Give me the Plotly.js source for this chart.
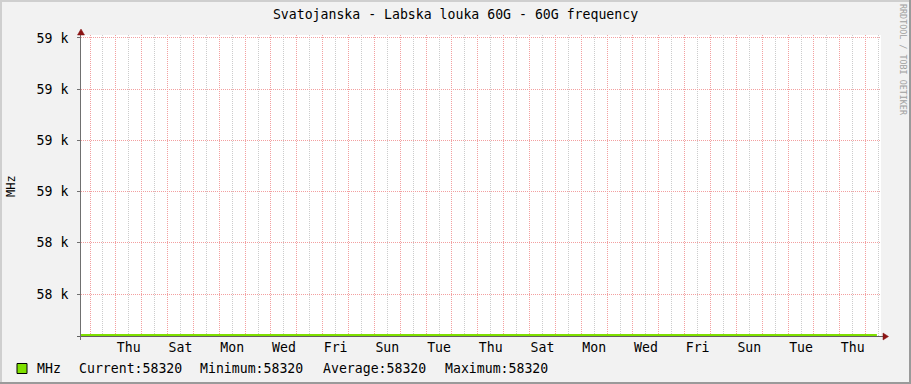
<!DOCTYPE html>
<html><head><meta charset="utf-8">
<script src="https://cdn.plot.ly/plotly-3.0.1.min.js"></script>
<style>html,body{margin:0;padding:0;background:#F2F2F2;overflow:hidden}#chart{width:911px;height:384px}</style>
</head><body><div id="chart"></div>
<script>
// ---- data ----
const sampleTimes = ['2024-01-02 15:40','2024-01-05 00:00','2024-01-09 00:00','2024-01-13 00:00','2024-01-17 00:00','2024-01-21 00:00','2024-01-25 00:00','2024-01-29 00:00','2024-02-02 10:25'];
const mhzValues = [58320,58320,58320,58320,58320,58320,58320,58320,58320];
const dayLabelDates = ['2024-01-04 12:00','2024-01-06 12:00','2024-01-08 12:00','2024-01-10 12:00','2024-01-12 12:00','2024-01-14 12:00','2024-01-16 12:00','2024-01-18 12:00','2024-01-20 12:00','2024-01-22 12:00','2024-01-24 12:00','2024-01-26 12:00','2024-01-28 12:00','2024-01-30 12:00','2024-02-01 12:00'];
const dayLabels = ['Thu','Sat','Mon','Wed','Fri','Sun','Tue','Thu','Sat','Mon','Wed','Fri','Sun','Tue','Thu'];
const yTickValues = [58400,58500,58600,58700,58800,58900];
const yTickLabels = ['58 k','58 k','59 k','59 k','59 k','59 k'];
const statNames = ['Current','Minimum','Average','Maximum'];
const statValues = [58320,58320,58320,58320];
const seriesName = 'MHz';
const titleText = 'Svatojanska - Labska louka 60G - 60G frequency';
const watermark = 'RRDTOOL / TOBI OETIKER';

// ---- layout helpers (pixel -> paper) ----
const L = 81, R = 30, T = 35, B = 48, W = 911, H = 384;
const PW = W - L - R, PH = H - T - B;
const px = p => (p - L) / PW;
const py = p => (H - B - p) / PH;
const MONO = 'DejaVu Sans Mono';
const xRange = ['2024-01-02 15:39', '2024-02-02 14:13'];
const yRange = [58318, 58320 + (H - B - T) / 0.5138];

const redGrid = 'rgb(243,160,160)';
const grayGrid = 'rgb(204,204,204)';

const trace = {
  x: sampleTimes, y: mhzValues, type: 'scatter', mode: 'lines',
  line: {color: '#7FE000', width: 2}, name: seriesName, hoverinfo: 'skip', showlegend: false
};

const shapes = [];
// frame
shapes.push({type:'line',xref:'paper',yref:'paper',x0:px(0),x1:px(W),y0:py(1),y1:py(1),line:{color:'#CFCFCF',width:2}});
shapes.push({type:'line',xref:'paper',yref:'paper',x0:px(1),x1:px(1),y0:py(0),y1:py(H),line:{color:'#CFCFCF',width:2}});
shapes.push({type:'line',xref:'paper',yref:'paper',x0:px(0),x1:px(W),y0:py(H-1),y1:py(H-1),line:{color:'#9A9A9A',width:2}});
shapes.push({type:'line',xref:'paper',yref:'paper',x0:px(W-1),x1:px(W-1),y0:py(0),y1:py(H),line:{color:'#9A9A9A',width:2}});
// axes
shapes.push({type:'line',xref:'paper',yref:'paper',x0:px(77),x1:px(884),y0:py(336.5),y1:py(336.5),line:{color:'#606060',width:1}});
shapes.push({type:'line',xref:'paper',yref:'paper',x0:px(80.5),x1:px(80.5),y0:py(340),y1:py(34),line:{color:'#707070',width:1}});
// arrowheads
shapes.push({type:'path',xref:'paper',yref:'paper',
  path:`M ${px(81)},${py(29)} L ${px(77.5)},${py(35)} L ${px(84.5)},${py(35)} Z`,
  fillcolor:'#8B1414',line:{color:'#8B1414',width:0.5}});
shapes.push({type:'path',xref:'paper',yref:'paper',
  path:`M ${px(888.5)},${py(336.5)} L ${px(883)},${py(333)} L ${px(883)},${py(340)} Z`,
  fillcolor:'#8B1414',line:{color:'#8B1414',width:0.5}});
// legend swatch
shapes.push({type:'rect',xref:'paper',yref:'paper',x0:px(17),x1:px(27),y0:py(373.5),y1:py(363.5),
  fillcolor:'#7FE000',line:{color:'#000',width:1}});

const font13 = {family: MONO, size: 13.2, color: '#000'};
const annotations = [];
annotations.push({xref:'paper',yref:'paper',x:px(34.5),y:py(368.5),xanchor:'left',yanchor:'middle',text:seriesName,showarrow:false,font:font13});
const statX = [76.8, 198, 320.7, 443];
statNames.forEach((n,i)=>{
  annotations.push({xref:'paper',yref:'paper',x:px(statX[i]),y:py(368.5),xanchor:'left',yanchor:'middle',
    text:n+':'+statValues[i],showarrow:false,font:font13});
});
annotations.push({xref:'paper',yref:'paper',x:px(11),y:py(186),xanchor:'center',yanchor:'middle',text:seriesName,
  textangle:-90,showarrow:false,font:{family:MONO,size:12,color:'#000'}});
annotations.push({xref:'paper',yref:'paper',x:px(903),y:py(60),xanchor:'center',yanchor:'middle',text:watermark,
  textangle:90,showarrow:false,font:{family:MONO,size:8.4,color:'#A0A0A0'}});

const layout = {
  width: W, height: H,
  margin: {l: L, r: R, t: T, b: B, pad: 0},
  paper_bgcolor: '#F2F2F2', plot_bgcolor: '#FFFFFF',
  showlegend: false,
  title: {text: titleText, font: font13, x: 0.5, xref: 'container', xanchor: 'center',
          y: 1 - 14/H, yref: 'container', yanchor: 'middle'},
  xaxis: {type:'date', range: xRange, tickmode:'linear', tick0:'2024-01-03 00:00', dtick: 86400000,
    showticklabels:false, ticks:'', showgrid:true, gridcolor: redGrid, griddash:'1px,1px', gridwidth:1,
    minor:{tick0:'2024-01-02 12:00', dtick:86400000, showgrid:true, gridcolor: grayGrid, griddash:'1px,1px', gridwidth:1},
    zeroline:false, showline:false, fixedrange:true},
  xaxis2: {type:'date', overlaying:'x', anchor:'y', side:'bottom', range: xRange, tickmode:'array',
    tickvals: dayLabelDates, ticktext: dayLabels, showgrid:false, ticks:'', showline:false, zeroline:false,
    tickfont: font13, ticklabelstandoff: 2, fixedrange:true},
  yaxis: {range: yRange, tickmode:'array', tickvals: yTickValues, ticktext: yTickLabels,
    showgrid:true, gridcolor: redGrid, griddash:'1px,1px', gridwidth:1, zeroline:false, showline:false,
    ticks:'outside', ticklen:3, tickcolor:'#707070', tickfont: font13, ticklabelstandoff: 6, fixedrange:true},
  shapes: shapes, annotations: annotations
};
const trace2 = {x:[xRange[0]], y:[yRange[0]-100], xaxis:'x2', type:'scatter', mode:'markers', marker:{opacity:0}, hoverinfo:'skip', showlegend:false};
Plotly.newPlot('chart', [trace, trace2], layout, {staticPlot:true, displayModeBar:false});
</script></body></html>
